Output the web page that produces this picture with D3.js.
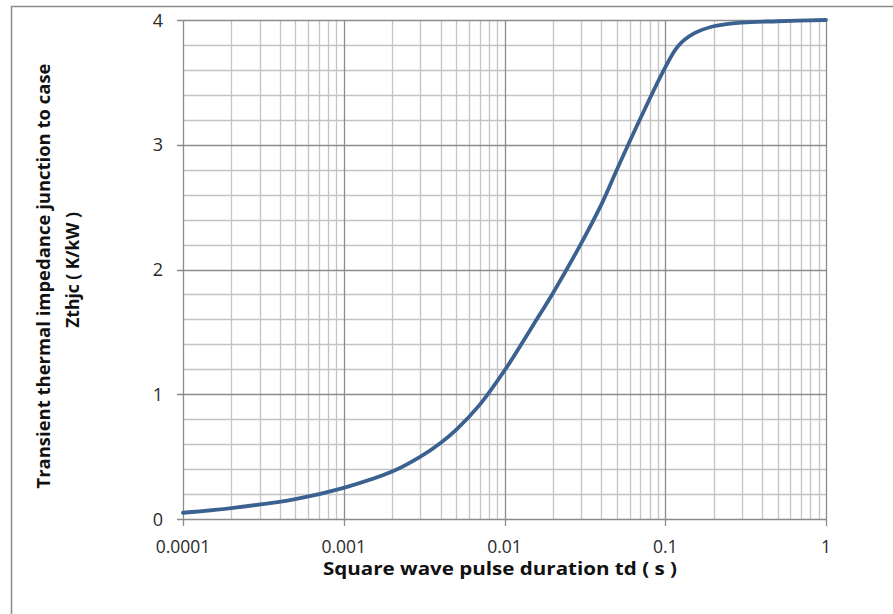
<!DOCTYPE html>
<html><head><meta charset="utf-8">
<script src="https://cdn.jsdelivr.net/npm/d3@7/dist/d3.min.js"></script>
<style>body{margin:0;background:#fff}svg{display:block}</style>
</head><body>
<svg id="c" width="893" height="614"></svg>
<script>
const pulseDuration = [0.0001,0.0002,0.0005,0.001,0.002,0.003,0.004,0.005,0.007,0.01,0.015,0.02,0.03,0.04,0.05,0.07,0.1,0.12,0.15,0.2,0.3,0.5,1];
const zthjc        = [0.05,0.088,0.16,0.25,0.38,0.50,0.61,0.715,0.915,1.19,1.55,1.81,2.21,2.52,2.80,3.21,3.62,3.79,3.89,3.95,3.98,3.99,4.0];
const xTicks = [0.0001,0.001,0.01,0.1,1];
const xTickLabels = ["0.0001","0.001","0.01","0.1","1"];
const yTicks = [0,1,2,3,4];
const xTitle = "Square wave pulse duration td ( s )";
const yTitle1 = "Transient thermal impedance junction to case";
const yTitle2 = "Zthjc ( K/kW )";

const svg = d3.select("#c");
const L=183, R=826, T=20, B=519;
const x = d3.scaleLog().domain([0.0001,1]).range([L,R]);
const y = d3.scaleLinear().domain([0,4]).range([B,T]);
const font = "'Open Sans', sans-serif";

svg.append("path").attr("d","M11.5,614 V6.5 H893").attr("fill","none").attr("stroke","#8a8a8a").attr("stroke-width",1.5);

const g = svg.append("g");
const yMinor = d3.range(0,4.0001,0.2).filter(v=>Math.abs(v-Math.round(v))>1e-6);
g.selectAll(".hm").data(yMinor).join("line")
 .attr("x1",L).attr("x2",R).attr("y1",d=>Math.round(y(d))+0.5).attr("y2",d=>Math.round(y(d))+0.5)
 .attr("stroke","#c4c4c4").attr("stroke-width",1.3);
const xMinor=[];
for(let e=-4;e<0;e++) for(let m=2;m<=9;m++) xMinor.push(m*Math.pow(10,e));
g.selectAll(".vm").data(xMinor).join("line")
 .attr("y1",T).attr("y2",B).attr("x1",d=>Math.round(x(d))+0.5).attr("x2",d=>Math.round(x(d))+0.5)
 .attr("stroke","#c4c4c4").attr("stroke-width",1.3);
g.selectAll(".hM").data(yTicks).join("line")
 .attr("x1",L-6).attr("x2",R).attr("y1",d=>Math.round(y(d))+0.5).attr("y2",d=>Math.round(y(d))+0.5)
 .attr("stroke","#8c8c8c").attr("stroke-width",1.3);
g.selectAll(".vM").data(xTicks).join("line")
 .attr("y1",T).attr("y2",B+7).attr("x1",d=>Math.round(x(d))+0.5).attr("x2",d=>Math.round(x(d))+0.5)
 .attr("stroke","#8c8c8c").attr("stroke-width",1.3);

svg.selectAll(".yl").data(yTicks).join("text")
 .attr("x",163).attr("y",d=>y(d)+6.5).attr("text-anchor","end")
 .attr("font-family",font).attr("font-size",18).attr("fill","#2a2a2a").text(d=>d);
svg.selectAll(".xl").data(xTicks).join("text")
 .attr("x",d=>x(d)).attr("y",553).attr("text-anchor","middle")
 .attr("font-family",font).attr("font-size",17.5).attr("fill","#2a2a2a").text((d,i)=>xTickLabels[i]);

svg.append("text").attr("x",500).attr("y",575).attr("text-anchor","middle")
 .attr("font-family",font).attr("font-weight","bold").attr("font-size",17.5)
 .attr("textLength",354).attr("lengthAdjust","spacingAndGlyphs").attr("fill","#111").text(xTitle);
svg.append("text").attr("transform","translate(50,276) rotate(-90)").attr("text-anchor","middle")
 .attr("font-family",font).attr("font-weight","bold").attr("font-size",17.5)
 .attr("textLength",425).attr("lengthAdjust","spacingAndGlyphs").attr("fill","#111").text(yTitle1);
svg.append("text").attr("transform","translate(79,270) rotate(-90)").attr("text-anchor","middle")
 .attr("font-family",font).attr("font-weight","bold").attr("font-size",17.5).attr("fill","#111").text(yTitle2);

const line = d3.line().x(d=>x(d[0])).y(d=>y(d[1])).curve(d3.curveCatmullRom.alpha(0.5));
svg.append("path").datum(pulseDuration.map((t,i)=>[t,zthjc[i]]))
 .attr("d",line).attr("fill","none").attr("stroke","#3b6190").attr("stroke-width",3.8)
 .attr("stroke-linecap","round");
</script>
</body></html>
